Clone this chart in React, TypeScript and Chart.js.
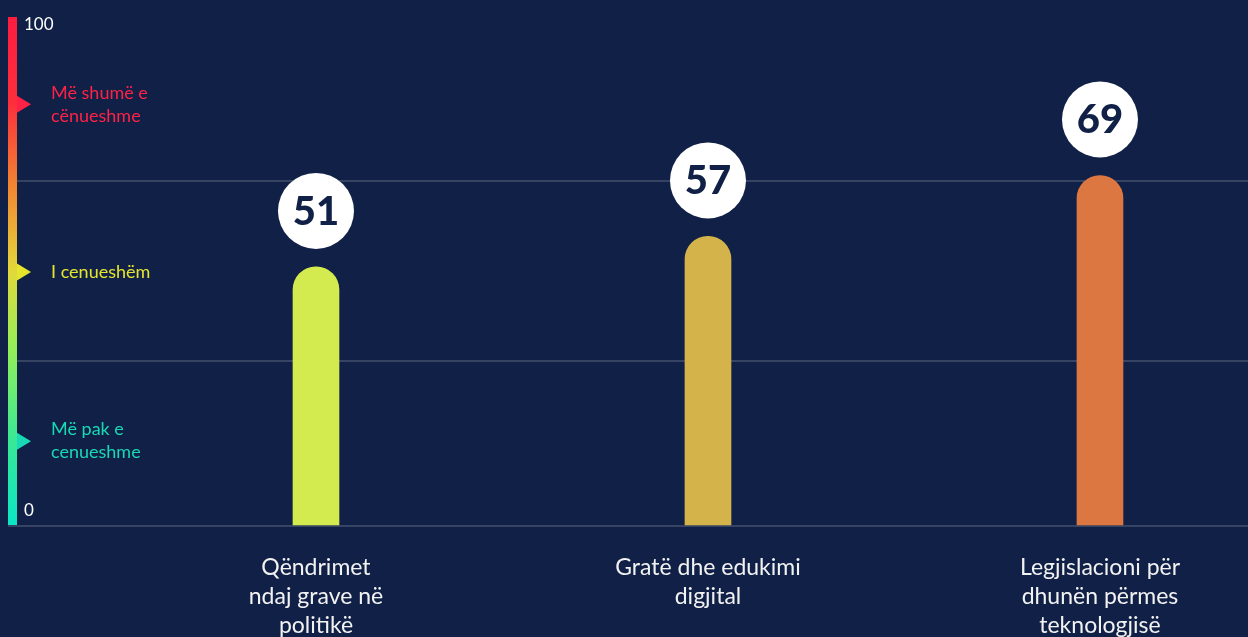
import React, { useEffect, useRef } from 'react';
import { Chart, registerables } from 'chart.js';

Chart.register(...registerables);

// ---- data ----
const categories: string[][] = [
  ['Qëndrimet', 'ndaj grave në', 'politikë'],
  ['Gratë dhe edukimi', 'digjital'],
  ['Legjislacioni për', 'dhunën përmes', 'teknologjisë'],
];
const values = [51, 57, 69];
const barColors = ['#d4eb50', '#d4b44a', '#dc7742'];
const yTickLabels = [0, 100];
const gridValues = [32.5, 68];
const levelValues = [83, 50, 16.7];
const levelLabels: string[][] = [['Më shumë e', 'cënueshme'], ['I cenueshëm'], ['Më pak e', 'cenueshme']];
const levelColors = ['#ff2246', '#e6e52e', '#19d8b4'];

const BG = '#102046';
const FONT = 'Lato, "Noto Sans", sans-serif';
const xMin = -0.7857;
const xMax = 2.3776;

const decorPlugin = {
  id: 'decor',
  beforeDraw(chart: any) {
    const { ctx, width, height } = chart;
    ctx.save();
    ctx.fillStyle = BG;
    ctx.fillRect(0, 0, width, height);
    ctx.restore();
  },
  beforeDatasetsDraw(chart: any) {
    const { ctx, chartArea } = chart;
    const y = chart.scales.y;
    const top = y.getPixelForValue(100) - 1;
    const bottom = y.getPixelForValue(0) - 1;
    const left = chartArea.left;
    const barW = 9;
    ctx.save();
    const g = ctx.createLinearGradient(0, top, 0, bottom);
    g.addColorStop(0, '#ff1c40');
    g.addColorStop(0.17, '#fd2f3c');
    g.addColorStop(0.33, '#f28432');
    g.addColorStop(0.5, '#e2d83a');
    g.addColorStop(0.66, '#90ef5a');
    g.addColorStop(0.83, '#3ae894');
    g.addColorStop(1, '#0be6c6');
    ctx.fillStyle = g;
    ctx.fillRect(left, top, barW, bottom - top);

    // level markers
    levelValues.forEach((v, i) => {
      const py = y.getPixelForValue(v);
      ctx.fillStyle = levelColors[i];
      ctx.beginPath();
      ctx.moveTo(left + barW, py - 8.5);
      ctx.lineTo(left + barW + 14, py);
      ctx.lineTo(left + barW, py + 8.5);
      ctx.closePath();
      ctx.fill();
      ctx.font = `18px ${FONT}`;
      ctx.textAlign = 'left';
      ctx.textBaseline = 'middle';
      const lines = levelLabels[i];
      const lh = 23;
      const start = py - ((lines.length - 1) * lh) / 2;
      lines.forEach((t, j) => ctx.fillText(t, left + 43, start + j * lh));
    });

    // y tick labels (0, 100) drawn inside
    ctx.fillStyle = '#ffffff';
    ctx.font = `17px ${FONT}`;
    ctx.textAlign = 'left';
    ctx.textBaseline = 'middle';
    yTickLabels.forEach((v) => {
      const py = y.getPixelForValue(v);
      const off = v === 100 ? 6.5 : -15.5;
      ctx.fillText(String(v), left + 16, py + off);
    });
    ctx.restore();
  },
  afterDatasetsDraw(chart: any) {
    const { ctx } = chart;
    const meta = chart.getDatasetMeta(0);
    ctx.save();
    meta.data.forEach((bar: any, i: number) => {
      const cx = bar.x;
      const cy = bar.y - 56;
      ctx.fillStyle = '#ffffff';
      ctx.beginPath();
      ctx.arc(cx, cy, 38, 0, Math.PI * 2);
      ctx.fill();
      ctx.fillStyle = BG;
      ctx.font = `900 40px ${FONT}`;
      ctx.textAlign = 'center';
      ctx.textBaseline = 'middle';
      ctx.fillText(String(values[i]), cx, cy + 1);
    });
    ctx.restore();
  },
};

export default function App() {
  const ref = useRef<HTMLCanvasElement | null>(null);
  useEffect(() => {
    if (!ref.current) return;
    const chart = new Chart(ref.current, {
      type: 'bar',
      data: {
        datasets: [
          {
            data: values.map((v, i) => ({ x: i, y: v })),
            backgroundColor: barColors,
            barThickness: 46,
            borderRadius: { topLeft: 23, topRight: 23, bottomLeft: 0, bottomRight: 0 },
            borderSkipped: false,
          } as any,
        ],
      },
      options: {
        animation: false,
        responsive: true,
        maintainAspectRatio: false,
        layout: { padding: { left: 8, top: 18, right: 0, bottom: 0 } },
        plugins: { legend: { display: false }, tooltip: { enabled: false } },
        scales: {
          x: {
            type: 'linear',
            min: xMin,
            max: xMax,
            offset: false,
            afterBuildTicks: (s: any) => {
              s.ticks = categories.map((_, i) => ({ value: i }));
            },
            afterFit: (s: any) => {
              s.height = 111;
            },
            grid: { display: false, offset: false },
            border: { display: false },
            ticks: {
              callback: (v: any) => categories[v as number],
              color: '#f2f2f2',
              font: { family: FONT, size: 23, lineHeight: 1.26 },
              padding: 19,
              maxRotation: 0,
              autoSkip: false,
            },
          },
          y: {
            min: 0,
            max: 100,
            afterBuildTicks: (s: any) => {
              s.ticks = [0, ...gridValues, 100].map((v) => ({ value: v }));
            },
            afterFit: (s: any) => {
              s.width = 0;
            },
            ticks: { display: false },
            border: { display: false },
            grid: {
              color: (c: any) => (c.tick && c.tick.value === 100 ? 'rgba(0,0,0,0)' : 'rgba(255,255,255,0.16)'),
              lineWidth: 2,
              drawTicks: false,
            },
          },
        },
      } as any,
      plugins: [decorPlugin],
    });
    return () => chart.destroy();
  }, []);
  return (
    <div style={{ position: 'absolute', left: 0, top: 0, width: 1248, height: 637, overflow: 'hidden', background: BG }}>
      <canvas ref={ref} />
    </div>
  );
}
